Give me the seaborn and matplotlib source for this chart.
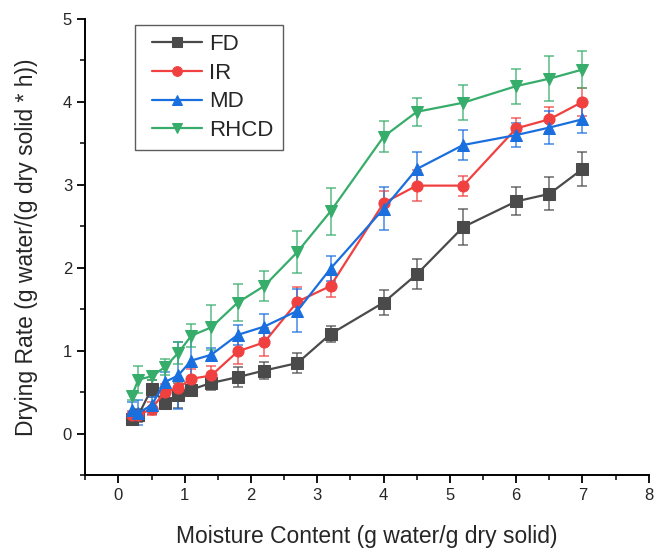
import numpy as np
import pandas as pd
import matplotlib
matplotlib.use("Agg")
import matplotlib.pyplot as plt
from matplotlib.lines import Line2D
from matplotlib.legend_handler import HandlerLine2D
import seaborn as sns

moisture = [0.2, 0.3, 0.5, 0.7, 0.9, 1.1, 1.4, 1.8, 2.2, 2.7, 3.2, 4.0, 4.5, 5.2, 6.0, 6.5, 7.0]

fd = [0.18, 0.22, 0.54, 0.37, 0.46, 0.53, 0.61, 0.68, 0.76, 0.85, 1.20, 1.58, 1.92, 2.49, 2.80, 2.89, 3.19]
fd_err = [0.05, 0.08, 0.10, 0.08, 0.15, 0.06, 0.08, 0.12, 0.10, 0.12, 0.10, 0.15, 0.18, 0.22, 0.17, 0.20, 0.20]

ir = [0.22, 0.22, 0.30, 0.50, 0.55, 0.66, 0.70, 0.99, 1.10, 1.59, 1.78, 2.78, 2.99, 2.99, 3.68, 3.79, 4.00]
ir_err = [0.05, 0.06, 0.08, 0.10, 0.08, 0.12, 0.12, 0.15, 0.17, 0.18, 0.13, 0.15, 0.19, 0.12, 0.12, 0.15, 0.17]

md = [0.28, 0.25, 0.34, 0.62, 0.70, 0.88, 0.95, 1.19, 1.29, 1.48, 1.99, 2.71, 3.19, 3.48, 3.60, 3.69, 3.79]
md_err = [0.10, 0.15, 0.10, 0.12, 0.40, 0.35, 0.08, 0.12, 0.15, 0.26, 0.15, 0.26, 0.20, 0.18, 0.15, 0.20, 0.16]

rhcd = [0.45, 0.65, 0.69, 0.80, 0.97, 1.18, 1.28, 1.58, 1.78, 2.19, 2.68, 3.58, 3.88, 3.99, 4.19, 4.28, 4.39]
rhcd_err = [0.05, 0.16, 0.05, 0.10, 0.13, 0.14, 0.27, 0.22, 0.18, 0.25, 0.28, 0.19, 0.17, 0.21, 0.21, 0.27, 0.22]

series_names = ["FD", "IR", "MD", "RHCD"]
series_vals = [fd, ir, md, rhcd]
series_errs = [fd_err, ir_err, md_err, rhcd_err]
colors = ["#4a4a4a", "#F14040", "#1A6FDF", "#37AD6B"]
markers = ["s", "o", "^", "v"]


class PaddedHandler(HandlerLine2D):
    def create_artists(self, legend, orig_handle, xdescent, ydescent, width, height, fontsize, trans):
        pad = 6
        arts = super().create_artists(legend, orig_handle, xdescent - pad, ydescent,
                                      width - pad, height, fontsize, trans)
        for a in arts:
            if a.get_marker() not in (None, "None", ""):
                a.set_markersize(7)
        return arts


sns.set_theme(style="ticks")
plt.rcParams["font.family"] = ["Liberation Sans", "DejaVu Sans"]

fig = plt.figure(figsize=(6.54, 5.5), dpi=100)
ax = fig.add_axes([0.1304, 0.1364, 0.8616, 0.8291])

for name, vals, errs, col, mk in zip(series_names, series_vals, series_errs, colors, markers):
    ax.errorbar(moisture, vals, yerr=errs, fmt="none", ecolor=col, alpha=0.75,
                elinewidth=1.2, capsize=3.3, capthick=1.2, zorder=2)
    sns.lineplot(x=moisture, y=vals, ax=ax, color=col, marker=mk, markersize=8,
                 markeredgecolor=col, linewidth=1.6, label=name, zorder=3)

ax.set_xlim(-0.5, 8)
ax.set_ylim(-0.5, 5)
ax.set_xticks(np.arange(0, 9, 1))
ax.set_yticks(np.arange(0, 6, 1))
ax.set_xticks(np.arange(-0.5, 8.01, 0.5), minor=True)
ax.set_yticks(np.arange(-0.5, 5.01, 0.5), minor=True)
ax.tick_params(axis="both", which="major", length=6, width=1.3, labelsize=12, direction="out", color="black")
ax.tick_params(axis="both", which="minor", length=3.5, width=1.1, direction="out", color="black")
for side in ["top", "right"]:
    ax.spines[side].set_visible(False)
for side in ["left", "bottom"]:
    ax.spines[side].set_linewidth(1.4)
    ax.spines[side].set_color("black")

ax.set_xlabel("Moisture Content (g water/g dry solid)", fontsize=16.5, labelpad=16)
ax.set_ylabel("Drying Rate (g water/(g dry solid * h))", fontsize=16.5, labelpad=18)

handles, labels = ax.get_legend_handles_labels()
leg = ax.legend(handles, labels, loc="upper left", bbox_to_anchor=(0.0882, 0.9868), fontsize=16,
                frameon=True, fancybox=False, edgecolor="#333333", borderpad=0.4,
                labelspacing=0.35, handlelength=2.6, handletextpad=0.35, borderaxespad=0,
                handler_map={Line2D: PaddedHandler()})
leg.get_frame().set_linewidth(1.0)

fig.savefig("out.png", dpi=100)
